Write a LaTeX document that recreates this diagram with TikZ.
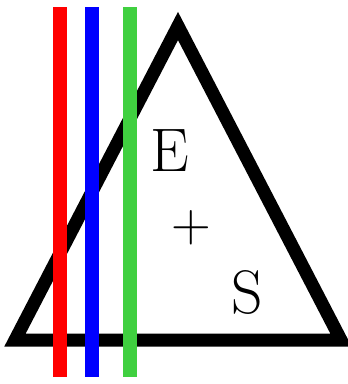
\documentclass[tikz,border=0pt]{standalone}
\definecolor{barred}{RGB}{255,0,0}
\definecolor{barblue}{RGB}{0,0,255}
\definecolor{bargreen}{RGB}{64,208,64}
\tikzset{
  tri/.style={draw=black, line width=13pt, line join=miter},
  bar/.style={line width=14pt},
  bigletter/.style={inner sep=0pt, font=\fontsize{61.5}{62}\selectfont},
  plussign/.style={inner sep=0pt, font=\fontsize{55}{56}\selectfont}
}
\begin{document}
\begin{tikzpicture}[x=1pt,y=-1pt]
\useasboundingbox (0,0) rectangle (348,384);
\coordinate (apex) at (178,26);
\coordinate (br) at (341,340);
\coordinate (bl) at (15,340);
\draw[tri] (apex) -- (br) -- (bl) -- cycle;
\node[bigletter] (E) at (170,151) {E};
\node[plussign] (plus) at (191.5,228) {+};
\node[bigletter] (S) at (247,292.5) {S};
\coordinate (r1) at (59.5,7);  \coordinate (r2) at (59.5,377);
\coordinate (b1) at (91.5,7);  \coordinate (b2) at (91.5,377);
\coordinate (g1) at (130,7);   \coordinate (g2) at (130,377);
\draw[bar, barred] (r1) -- (r2);
\draw[bar, barblue] (b1) -- (b2);
\draw[bar, bargreen] (g1) -- (g2);
\end{tikzpicture}
\end{document}
